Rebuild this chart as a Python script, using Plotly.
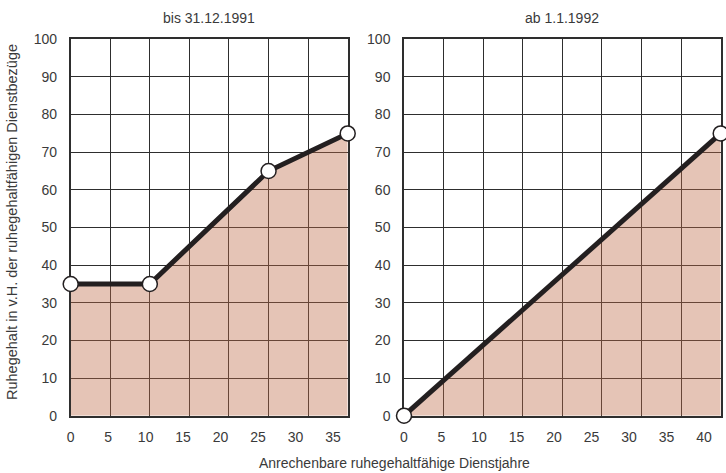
import plotly.graph_objects as go

# ---- data ----
years_old = [0, 10, 25, 35]
pct_old = [35, 35, 65, 75]
years_new = [0, 40]
pct_new = [0, 75]
x_labels_old = [0, 5, 10, 15, 20, 25, 30, 35]
x_labels_new = [0, 5, 10, 15, 20, 25, 30, 35, 40]
y_labels = [0, 10, 20, 30, 40, 50, 60, 70, 80, 90, 100]
title_old = "bis 31.12.1991"
title_new = "ab 1.1.1992"
x_title = "Anrechenbare ruhegehaltfähige Dienstjahre"
y_title = "Ruhegehalt in v.H. der ruhegehaltfähigen Dienstbezüge"

# ---- style ----
W, H = 726, 473
FONT = "Liberation Sans, Arial, sans-serif"
TXT = "#3a3a3a"
GRID = "#2e2e2e"
LINE = "#231f20"
FILL = "rgba(190,108,73,0.40)"
LABEL_SPACING = 0.947  # tick labels in the original are set slightly tighter than the grid

def px(v):
    return v / W

def py(v):
    return 1 - v / H

fig = go.Figure()

for xs, ys, xa, ya in [(years_old, pct_old, "x", "y"), (years_new, pct_new, "x2", "y2")]:
    fig.add_trace(go.Scatter(
        x=xs, y=ys, xaxis=xa, yaxis=ya, mode="lines+markers",
        fill="tozeroy", fillcolor=FILL,
        line=dict(color=LINE, width=5),
        marker=dict(size=15, color="white", line=dict(color=LINE, width=1.5)),
        cliponaxis=False, showlegend=False, hoverinfo="x+y",
    ))

ydom = [py(415.7), py(39.3)]

def xaxis_cfg(domain, xmax, labels):
    return dict(
        domain=domain, range=[0, xmax], fixedrange=True,
        tickmode="array", tickvals=[v * LABEL_SPACING for v in labels],
        ticktext=[str(v) for v in labels],
        showgrid=False, zeroline=False,
        minor=dict(tickmode="linear", tick0=0, dtick=5, showgrid=True,
                   gridcolor=GRID, gridwidth=1.3, ticks=""),
        ticks="outside", ticklen=8, tickcolor="rgba(0,0,0,0)",
        showline=True, mirror=True, linecolor=GRID, linewidth=1.5,
        layer="below traces",
        tickfont=dict(family=FONT, size=14, color=TXT),
        automargin=False,
    )

def yaxis_cfg(anchor):
    return dict(
        domain=ydom, range=[0, 100], anchor=anchor, fixedrange=True,
        tickmode="array", tickvals=y_labels, ticktext=[str(v) for v in y_labels],
        showgrid=True, gridcolor=GRID, gridwidth=1.3, zeroline=False,
        ticks="outside", ticklen=9, tickcolor="rgba(0,0,0,0)",
        showline=True, mirror=True, linecolor=GRID, linewidth=1.5,
        layer="below traces",
        tickfont=dict(family=FONT, size=14, color=TXT),
        automargin=False,
    )

fig.update_layout(
    width=W, height=H,
    margin=dict(l=0, r=0, t=0, b=0),
    paper_bgcolor="white", plot_bgcolor="white",
    xaxis=dict(**xaxis_cfg([px(70.7), px(347.7)], 35, x_labels_old), anchor="y"),
    yaxis=yaxis_cfg("x"),
    xaxis2=dict(**xaxis_cfg([px(404), px(720.7)], 40, x_labels_new), anchor="y2"),
    yaxis2=yaxis_cfg("x2"),
    annotations=[
        dict(text=title_old, x=px(209.2), y=py(18), xref="paper", yref="paper",
             showarrow=False, xanchor="center", yanchor="middle",
             font=dict(family=FONT, size=14, color=TXT)),
        dict(text=title_new, x=px(562.3), y=py(18), xref="paper", yref="paper",
             showarrow=False, xanchor="center", yanchor="middle",
             font=dict(family=FONT, size=14, color=TXT)),
        dict(text=x_title, x=px(394.5), y=py(463), xref="paper", yref="paper",
             showarrow=False, xanchor="center", yanchor="middle",
             font=dict(family=FONT, size=14, color=TXT)),
        dict(text=y_title, x=px(12), y=py(222), xref="paper", yref="paper",
             showarrow=False, xanchor="center", yanchor="middle", textangle=-90,
             font=dict(family=FONT, size=14.5, color=TXT)),
    ],
)

fig.write_html(
    "out.html",
    config={"displayModeBar": False},
    post_script="document.body.style.margin='0';document.body.style.overflow='hidden';",
)
